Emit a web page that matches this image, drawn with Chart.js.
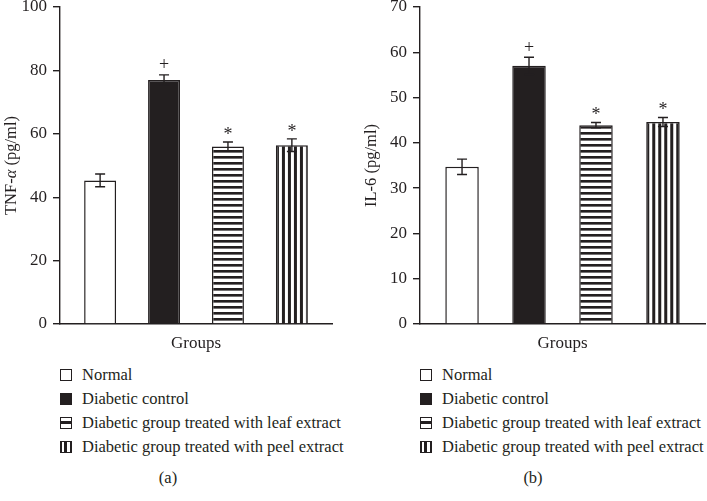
<!DOCTYPE html>
<html>
<head>
<meta charset="utf-8">
<script src="https://cdn.jsdelivr.net/npm/chart.js@4/dist/chart.umd.min.js"></script>
<style>
  html, body { margin: 0; padding: 0; background: #fff; }
  body { width: 707px; height: 501px; position: relative; overflow: hidden; font-family: "Liberation Serif", "DejaVu Serif", serif; color: #231f20; }
  .panel { position: absolute; top: 0; height: 360px; }
  .legend { position: absolute; font-size: 16.5px; line-height: 1; }
  .row { position: absolute; left: 0; white-space: nowrap; height: 24px; }
  .box { position: absolute; left: 0; width: 12px; height: 12px; box-sizing: border-box; border: 1.5px solid #231f20; }
  .txt { position: absolute; left: 22px; }
  .sub { position: absolute; font-size: 16.5px; transform: translateX(-50%); }
</style>
</head>
<body>
<div class="panel" style="left:0;width:350px;"><canvas id="cA" width="350" height="360"></canvas></div>
<div class="panel" style="left:360px;width:347px;"><canvas id="cB" width="347" height="360"></canvas></div>
<div class="legend" id="legA" style="left:60px;top:367px;"></div>
<div class="legend" id="legB" style="left:420px;top:367px;"></div>
<div class="sub" style="left:168px;top:468px;">(a)</div>
<div class="sub" style="left:533px;top:468px;">(b)</div>
<script>
// ---- data ----
const groups = ["Normal", "Diabetic control", "Diabetic group treated with leaf extract", "Diabetic group treated with peel extract"];
const xCategory = ["Groups"];
const tnfMeans = [45.3, 77.0, 56.0, 56.4];
const tnfErrors = [2.0, 1.6, 1.4, 2.0];
const il6Means = [34.7, 57.0, 43.9, 44.6];
const il6Errors = [1.7, 1.9, 0.6, 1.0];
const marks = ["", "+", "*", "*"];
const tnfTicks = { max: 100, step: 20 };
const il6Ticks = { max: 70, step: 10 };

const INK = "#231f20";
const FONT = "'Liberation Serif', 'DejaVu Serif', serif";

function hPattern(ctx) {
  const c = document.createElement("canvas"); c.width = 6; c.height = 6;
  const g = c.getContext("2d");
  g.fillStyle = "#fff"; g.fillRect(0, 0, 6, 6);
  g.fillStyle = INK; g.fillRect(0, 0, 6, 2.6);
  return ctx.createPattern(c, "repeat");
}
function vPattern(ctx) {
  const c = document.createElement("canvas"); c.width = 12; c.height = 4;
  const g = c.getContext("2d");
  g.fillStyle = "#fff"; g.fillRect(0, 0, 12, 4);
  g.fillStyle = INK; g.fillRect(0, 0, 3, 4); g.fillRect(6, 0, 3, 4);
  return ctx.createPattern(c, "repeat");
}

const errorPlugin = {
  id: "errs",
  beforeDatasetsDraw(chart) {
    chart.data.datasets.forEach((d, i) => {
      const bg = d.backgroundColor;
      if (bg && typeof bg === "object" && bg.setTransform) {
        const el = chart.getDatasetMeta(i).data[0];
        const left = el.x - el.width / 2;
        bg.setTransform(new DOMMatrix().translate(left, chart.scales.y.getPixelForValue(0)));
      }
    });
  },
  afterDatasetsDraw(chart, args, opts) {
    const ctx = chart.ctx;
    const y = chart.scales.y;
    ctx.save();
    ctx.strokeStyle = INK; ctx.lineWidth = 1.4; ctx.fillStyle = INK;
    chart.data.datasets.forEach((d, i) => {
      const el = chart.getDatasetMeta(i).data[0];
      const v = d.data[0], e = opts.errors[i];
      const yt = y.getPixelForValue(v + e), yb = y.getPixelForValue(v - e);
      ctx.beginPath();
      ctx.moveTo(el.x, yt); ctx.lineTo(el.x, yb);
      ctx.moveTo(el.x - 5, yt); ctx.lineTo(el.x + 5, yt);
      ctx.moveTo(el.x - 5, yb); ctx.lineTo(el.x + 5, yb);
      ctx.stroke();
      const t = opts.marks[i];
      if (t) {
        ctx.font = "18px " + FONT;
        ctx.textAlign = "center"; ctx.textBaseline = "alphabetic";
        const m = ctx.measureText(t);
        const off = (m.actualBoundingBoxAscent - m.actualBoundingBoxDescent) / 2;
        ctx.fillText(t, el.x, yt - 11.5 + off);
      }
    });
    ctx.restore();
  },
  afterDraw(chart, args, opts) {
    const ctx = chart.ctx;
    const a = chart.chartArea;
    ctx.save();
    ctx.translate(12, (a.top + a.bottom) / 2);
    ctx.rotate(-Math.PI / 2);
    ctx.fillStyle = INK; ctx.textBaseline = "middle";
    const parts = opts.title;
    let total = 0;
    parts.forEach(p => { ctx.font = (p.italic ? "italic " : "") + "16.5px " + FONT; total += ctx.measureText(p.text).width; });
    let x = -total / 2;
    parts.forEach(p => {
      ctx.font = (p.italic ? "italic " : "") + "16.5px " + FONT;
      ctx.textAlign = "left";
      ctx.fillText(p.text, x, 0);
      x += ctx.measureText(p.text).width;
    });
    ctx.restore();
  }
};

function makeChart(id, means, errors, tk, title, rightPad) {
  const cv = document.getElementById(id);
  const ctx = cv.getContext("2d");
  const fills = ["#ffffff", INK, hPattern(ctx), vPattern(ctx)];
  const datasets = groups.map((g, i) => ({
    label: g,
    data: [means[i]],
    backgroundColor: fills[i],
    borderColor: INK,
    borderWidth: 1.5,
    categoryPercentage: 0.94,
    barPercentage: 0.5
  }));
  return new Chart(ctx, {
    type: "bar",
    data: { labels: xCategory, datasets },
    plugins: [errorPlugin],
    options: {
      responsive: false,
      animation: false,
      layout: { padding: { left: 0, right: rightPad, top: 0, bottom: 0 } },
      plugins: {
        legend: { display: false },
        tooltip: { enabled: false },
        errs: { errors, marks, title }
      },
      scales: {
        x: {
          grid: { display: false, drawTicks: false },
          border: { display: true, color: INK, width: 1.4 },
          ticks: { color: INK, font: { family: FONT, size: 17 }, padding: 9 },
          afterFit(s) { s.height = 36; }
        },
        y: {
          min: 0, max: tk.max,
          grid: { drawOnChartArea: false, drawTicks: true, tickLength: 7, color: INK, lineWidth: 1.4 },
          border: { display: true, color: INK, width: 1.4 },
          ticks: { stepSize: tk.step, color: INK, font: { family: FONT, size: 17 }, padding: 6 },
          afterFit(s) { s.width = 60; s.paddingTop = 7; s.paddingBottom = 0; }
        }
      }
    }
  });
}

makeChart("cA", tnfMeans, tnfErrors, tnfTicks, [{ text: "TNF-" }, { text: "\u03b1", italic: true }, { text: " (pg/ml)" }], 18);
makeChart("cB", il6Means, il6Errors, il6Ticks, [{ text: "IL-6 (pg/ml)" }], 2);

// ---- HTML legends ----
const boxStyles = [
  "background:#fff;",
  "background:" + INK + ";",
  "background:linear-gradient(to bottom,#fff 0,#fff 3px," + INK + " 3px," + INK + " 6px,#fff 6px,#fff 100%);",
  "background:linear-gradient(to right,#fff 0,#fff 2.5px," + INK + " 2.5px," + INK + " 5.5px,#fff 5.5px,#fff 100%);border-right-width:2.5px;border-left-width:2.5px;"
];
const rowTops = [0, 23.5, 48, 72];
["legA", "legB"].forEach(lid => {
  const L = document.getElementById(lid);
  groups.forEach((g, i) => {
    const r = document.createElement("div");
    r.className = "row"; r.style.top = rowTops[i] + "px";
    const b = document.createElement("div"); b.className = "box"; b.style.cssText = boxStyles[i]; b.style.top = "2px";
    const t = document.createElement("div"); t.className = "txt"; t.textContent = g;
    r.appendChild(b); r.appendChild(t); L.appendChild(r);
  });
});
</script>
</body>
</html>
